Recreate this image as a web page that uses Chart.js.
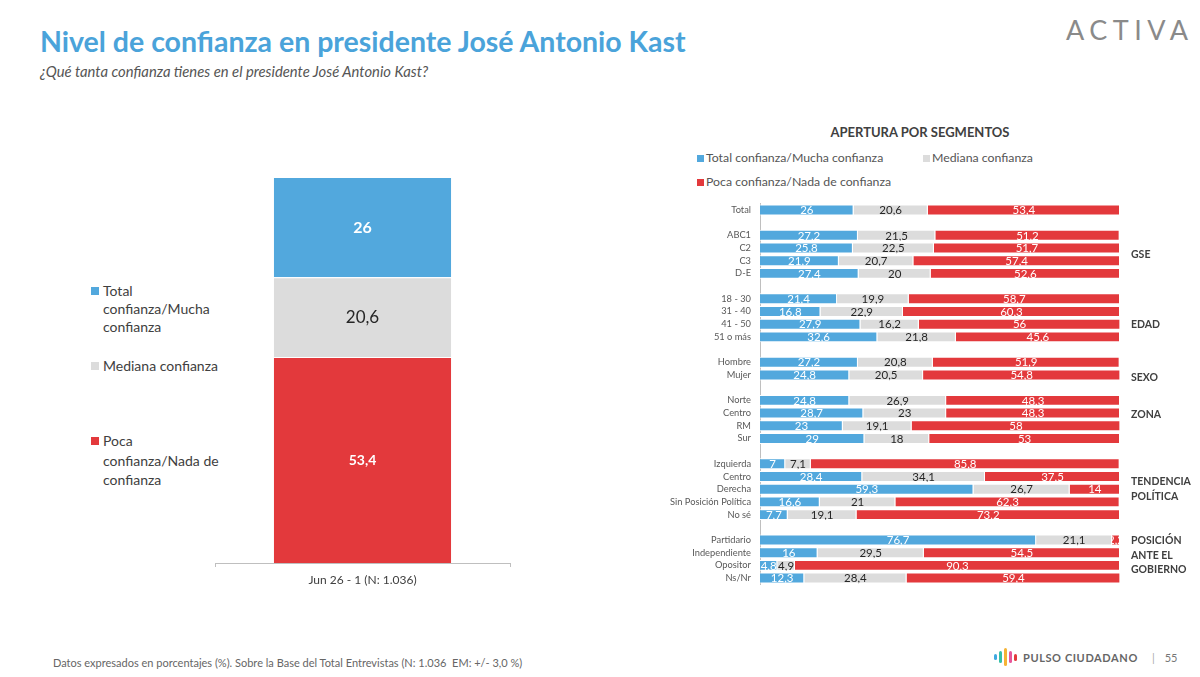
<!DOCTYPE html>
<html lang="es">
<head>
<meta charset="utf-8">
<script src="https://cdn.jsdelivr.net/npm/chart.js@4.4.1/dist/chart.umd.min.js"></script>
<style>
  html, body { margin: 0; padding: 0; background: #fff; }
  body { width: 1200px; height: 677px; position: relative; overflow: hidden; font-family: Lato, "Open Sans", sans-serif; }
  .abs { position: absolute; }
  #title { left: 40px; top: 24px; font-size: 28.5px; font-weight: 700; color: #4aa3da; white-space: nowrap; }
  #subtitle { left: 40px; top: 62px; font-size: 14.8px; font-style: italic; color: #555; white-space: nowrap; }
  #activa { left: 1066px; top: 13px; font-size: 27px; letter-spacing: 5.5px; color: #8a8a8a; font-weight: 400; }
  .leg { font-size: 14px; color: #404040; line-height: 18px; }
  .sq { display: inline-block; width: 8px; height: 8px; position: absolute; }
  #segTitle { left: 680px; width: 480px; top: 124px; text-align: center; font-size: 13px; font-weight: 700; color: #404040; }
  .rleg { font-size: 12.3px; color: #555; white-space: nowrap; }
  #footer { left: 53px; top: 656px; font-size: 11px; color: #666; white-space: nowrap; }
  #pulso { left: 994px; top: 648px; font-size: 11px; color: #777; white-space: nowrap; }
  #pulso .bar { display: inline-block; width: 3px; border-radius: 2px; margin-right: 2px; vertical-align: middle; }
</style>
</head>
<body>
<div id="title" class="abs">Nivel de confianza en presidente José Antonio Kast</div>
<div id="subtitle" class="abs">¿Qué tanta confianza tienes en el presidente José Antonio Kast?</div>
<div id="activa" class="abs">ACTIVA</div>

<!-- leyenda izquierda -->
<div class="abs leg" style="left:103px; top:282px;"><span class="sq" style="left:-12px; top:5px; background:#52a8dd"></span>Total<br>confianza/Mucha<br>confianza</div>
<div class="abs leg" style="left:103px; top:357px;"><span class="sq" style="left:-12px; top:5px; background:#dcdcdc"></span>Mediana confianza</div>
<div class="abs leg" style="left:103px; top:431px; line-height:19.5px;"><span class="sq" style="left:-12px; top:6px; background:#e3393c"></span>Poca<br>confianza/Nada de<br>confianza</div>

<div class="abs" style="left:200px; top:160px; width:330px; height:440px;"><canvas id="mainChart"></canvas></div>

<div id="segTitle" class="abs">APERTURA POR SEGMENTOS</div>
<div class="abs rleg" style="left:706px; top:150px;"><span class="sq" style="left:-9px; top:5px; width:7px; height:7px; background:#52a8dd"></span>Total confianza/Mucha confianza</div>
<div class="abs rleg" style="left:932px; top:150px;"><span class="sq" style="left:-9px; top:5px; width:7px; height:7px; background:#dcdcdc"></span>Mediana confianza</div>
<div class="abs rleg" style="left:706px; top:174px;"><span class="sq" style="left:-9px; top:5px; width:7px; height:7px; background:#e3393c"></span>Poca confianza/Nada de confianza</div>

<div class="abs" style="left:640px; top:189px; width:560px; height:410px;"><canvas id="segChart"></canvas></div>

<div id="footer" class="abs">Datos expresados en porcentajes (%). Sobre la Base del Total Entrevistas (N: 1.036&nbsp; EM: +/- 3,0 %)</div>
<div id="pulso" class="abs">
  <span class="bar" style="height:6px;background:#3fa9e0"></span><span class="bar" style="height:12px;background:#36c0a8"></span><span class="bar" style="height:18px;background:#f5b335"></span><span class="bar" style="height:12px;background:#e8569a"></span><span class="bar" style="height:7px;background:#e3393c;margin-right:6px"></span><span style="font-weight:700;letter-spacing:0.6px;color:#666;vertical-align:middle">PULSO CIUDADANO</span><span style="margin-left:14px;color:#aaa;vertical-align:middle">|</span><span style="margin-left:10px;vertical-align:middle">55</span>
</div>

<script>
// Colores de la serie
const colorAlta = '#52a8dd';
const colorMedia = '#dcdcdc';
const colorBaja = '#e3393c';

const seriesNames = ['Total confianza/Mucha confianza', 'Mediana confianza', 'Poca confianza/Nada de confianza'];

// Gráfico principal
const mainLabels = ['Jun 26 - 1 (N: 1.036)'];
const mainAlta = [26];
const mainMedia = [20.6];
const mainBaja = [53.4];

// Apertura por segmentos ('' = fila vacía entre grupos)
const segLabels = ['Total', '', 'ABC1', 'C2', 'C3', 'D-E', '', '18 - 30', '31 - 40', '41 - 50', '51 o más', '',
    'Hombre', 'Mujer', '', 'Norte', 'Centro', 'RM', 'Sur', '', 'Izquierda', 'Centro', 'Derecha',
    'Sin Posición Política', 'No sé', '', 'Partidario', 'Independiente', 'Opositor', 'Ns/Nr'];
const segAlta = [26, null, 27.2, 25.8, 21.9, 27.4, null, 21.4, 16.8, 27.9, 32.6, null, 27.2, 24.8, null,
    24.8, 28.7, 23, 29, null, 7, 28.4, 59.3, 16.6, 7.7, null, 76.7, 16, 4.8, 12.3];
const segMedia = [20.6, null, 21.5, 22.5, 20.7, 20, null, 19.9, 22.9, 16.2, 21.8, null, 20.8, 20.5, null,
    26.9, 23, 19.1, 18, null, 7.1, 34.1, 26.7, 21, 19.1, null, 21.1, 29.5, 4.9, 28.4];
const segBaja = [53.4, null, 51.2, 51.7, 57.4, 52.6, null, 58.7, 60.3, 56, 45.6, null, 51.9, 54.8, null,
    48.3, 48.3, 58, 53, null, 85.8, 37.5, 14, 62.3, 73.2, null, 2.2, 54.5, 90.3, 59.4];

// Nombres de grupo y fila de referencia
const groupNames = [['GSE'], ['EDAD'], ['SEXO'], ['ZONA'], ['TENDENCIA', 'POLÍTICA'], ['POSICIÓN', 'ANTE EL', 'GOBIERNO']];
const groupRows = [3.5, 9, 13.2, 16.1, 22, 27.2];

const FONT = 'Lato, "Open Sans", sans-serif';

function fmt(v) {
    return String(v).replace('.', ',');
}

// Etiquetas dentro de cada segmento
const valueLabels = {
    id: 'valueLabels',
    afterDatasetsDraw(chart, args, opts) {
        const ctx = chart.ctx;
        const horizontal = chart.options.indexAxis === 'y';
        chart.data.datasets.forEach((ds, i) => {
            const meta = chart.getDatasetMeta(i);
            meta.data.forEach((bar, j) => {
                const v = ds.data[j];
                if (v === null || v === undefined) return;
                const p = bar.getProps(['x', 'y', 'base', 'width', 'height'], true);
                let left, top, w, h;
                if (horizontal) {
                    left = Math.min(p.x, p.base); w = Math.abs(p.x - p.base);
                    top = p.y - p.height / 2; h = p.height;
                } else {
                    top = Math.min(p.y, p.base); h = Math.abs(p.y - p.base);
                    left = p.x - p.width / 2; w = p.width;
                }
                ctx.save();
                ctx.beginPath();
                ctx.rect(left, top, w, h);
                ctx.clip();
                ctx.font = ds.labelFont;
                ctx.fillStyle = ds.labelColor;
                ctx.textAlign = 'center';
                ctx.textBaseline = 'middle';
                ctx.fillText(fmt(v), left + w / 2, top + h / 2 + 0.5);
                ctx.restore();
            });
        });
    }
};

// Nombres de grupo a la derecha
const groupTitles = {
    id: 'groupTitles',
    afterDraw(chart) {
        const ctx = chart.ctx;
        const yScale = chart.scales.y;
        const x = chart.chartArea.right + 11;
        ctx.save();
        ctx.font = 'bold 10.5px ' + FONT;
        ctx.fillStyle = '#404040';
        ctx.textBaseline = 'middle';
        groupNames.forEach((lines, g) => {
            const yc = yScale.getPixelForValue(groupRows[g]);
            const lh = 14.5;
            lines.forEach((t, k) => {
                ctx.fillText(t, x, yc + (k - (lines.length - 1) / 2) * lh);
            });
        });
        ctx.restore();
    }
};

function serie(name, data, color, font, textColor) {
    return { label: name, data: data, backgroundColor: color, borderColor: '#fff', borderWidth: 1,
        labelFont: font, labelColor: textColor };
}

// vertical: la primera serie queda abajo, así que va al revés
new Chart(document.getElementById('mainChart'), {
    type: 'bar',
    data: {
        labels: mainLabels,
        datasets: [
            serie(seriesNames[2], mainBaja, colorBaja, 'bold 14px ' + FONT, '#fff'),
            serie(seriesNames[1], mainMedia, colorMedia, '17px ' + FONT, '#262626'),
            serie(seriesNames[0], mainAlta, colorAlta, 'bold 16px ' + FONT, '#fff')
        ]
    },
    options: {
        responsive: true,
        maintainAspectRatio: false,
        animation: false,
        layout: { padding: { left: 15, right: 20, top: 17, bottom: 0 } },
        datasets: { bar: { categoryPercentage: 1, barPercentage: 0.607 } },
        scales: {
            x: {
                stacked: true,
                grid: { display: true, drawOnChartArea: false, tickLength: 4, color: '#bfbfbf' },
                border: { display: true, color: '#bfbfbf' },
                ticks: { font: { family: FONT, size: 12 }, color: '#404040', padding: 6 },
                afterFit(scale) { scale.height = 37; }
            },
            y: { stacked: true, min: 0, max: 100, display: false }
        },
        plugins: {
            legend: { display: false },
            tooltip: { enabled: false }
        }
    },
    plugins: [valueLabels]
});

new Chart(document.getElementById('segChart'), {
    type: 'bar',
    data: {
        labels: segLabels,
        datasets: [
            serie(seriesNames[0], segAlta, colorAlta, '11.5px ' + FONT, '#fff'),
            serie(seriesNames[1], segMedia, colorMedia, '11.5px ' + FONT, '#262626'),
            serie(seriesNames[2], segBaja, colorBaja, '11.5px ' + FONT, '#fff')
        ]
    },
    options: {
        indexAxis: 'y',
        responsive: true,
        maintainAspectRatio: false,
        animation: false,
        layout: { padding: { left: 0, right: 80, top: 12.5, bottom: 8.5 } },
        datasets: { bar: { categoryPercentage: 1, barPercentage: 0.86 } },
        scales: {
            x: { stacked: true, min: 0, max: 100, display: false },
            y: {
                stacked: true,
                grid: { display: false, drawTicks: false },
                border: { display: true, color: '#bfbfbf' },
                ticks: { font: { family: FONT, size: 9.3 }, color: '#595959', padding: 9, autoSkip: false },
                afterFit(scale) { scale.width = 120; }
            }
        },
        plugins: {
            legend: { display: false },
            tooltip: { enabled: false }
        }
    },
    plugins: [valueLabels, groupTitles]
});
</script>
</body>
</html>
